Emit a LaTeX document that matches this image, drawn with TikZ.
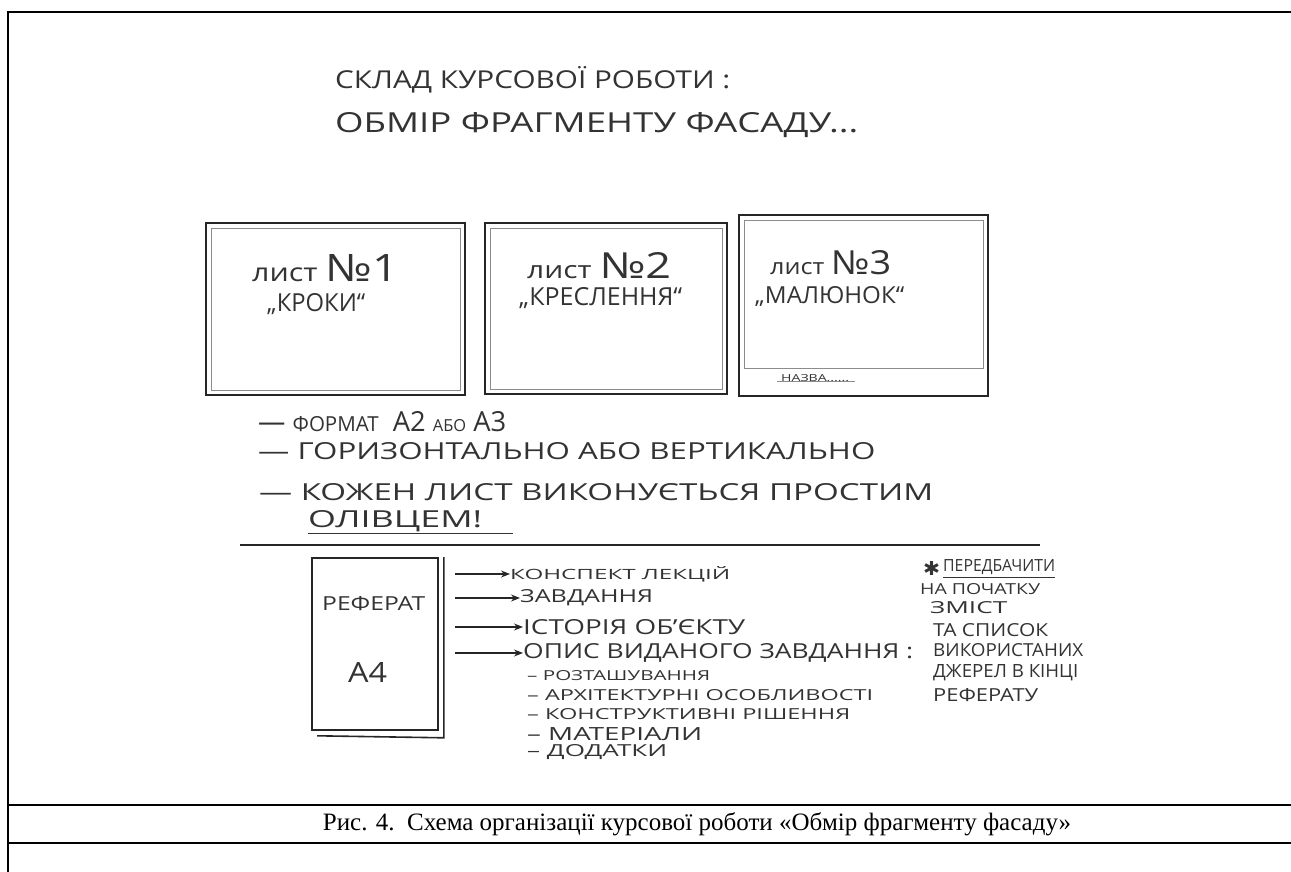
\documentclass[tikz,border=0pt]{standalone}
\usepackage{fontspec}
\setmainfont{Liberation Serif}
\newfontfamily\hand{Open Sans}
\newfontfamily\symb{DejaVu Sans}
\usetikzlibrary{positioning, arrows.meta}

\newcommand{\sized}[3]{\resizebox{#1pt}{#2pt}{#3}}

\begin{document}
\begin{tikzpicture}[x=1pt, y=-1pt,
	hand/.style={font=\hand, text=black!80, inner sep=0pt, anchor=west},
	sheet/.style={draw=black!85, line width=1.6pt, inner sep=0pt},
	inner/.style={draw=black!45, line width=0.6pt},
	pointer/.style={-{Stealth[length=9pt, width=7pt]}, line width=1.2pt, draw=black!85},
	rule/.style={line width=2pt}]
	\useasboundingbox (0,0) rectangle (1291,872);

	% table round the figure
	\draw[rule] (8,872) -- (8,12) -- (1295,12);
	\draw[rule] (8,805) -- (1295,805);
	\draw[rule] (8,843) -- (1295,843);
	\node[font=\fontsize{25}{29}\selectfont, inner sep=0pt] (caption) at (697,824) {Рис. 4.\ \ Схема організації курсової роботи «Обмір фрагменту фасаду»};

	% title
	\node[hand] (title1) at (335,80) {\sized{395}{22}{СКЛАД КУРСОВОЇ РОБОТИ :}};
	\node[hand] (title2) at (335,125) {\sized{523}{20}{ОБМІР ФРАГМЕНТУ ФАСАДУ...}};

	% three sheets
	\node[sheet, minimum width=259pt, minimum height=172pt] (sheet1) at (335.5,309) {};
	\node[sheet, minimum width=242pt, minimum height=171pt] (sheet2) at (606,308.5) {};
	\node[sheet, minimum width=249pt, minimum height=181pt] (sheet3) at (863.5,305.5) {};
	\draw[inner] ([shift={(6,6)}]sheet1.north west) rectangle ([shift={(-6,-6)}]sheet1.south east);
	\draw[inner] ([shift={(6,6)}]sheet2.north west) rectangle ([shift={(-6,-6)}]sheet2.south east);
	\draw[inner] ([shift={(6,6)}]sheet3.north west) rectangle ([shift={(-6,-29)}]sheet3.south east);

	\node[hand] (no1) at (252,268) {\sized{146}{27}{лист {\fontsize{15}{15}\selectfont №1}}};
	\node[hand] (name1) at (267,304) {\sized{98}{18}{„КРОКИ“}};
	\node[hand] (no2) at (527,266) {\sized{144}{26}{лист {\fontsize{15}{15}\selectfont №2}}};
	\node[hand] (name2) at (519,298) {\sized{163}{18}{„КРЕСЛЕННЯ“}};
	\node[hand] (no3) at (770,263) {\sized{121}{24}{лист {\fontsize{15}{15}\selectfont №3}}};
	\node[hand] (name3) at (755,297) {\sized{149}{17}{„МАЛЮНОК“}};
	\node[hand] (label3) at (781,378) {\sized{68}{7}{НАЗВА......}};
	\draw[inner] ([xshift=-4pt]label3.south west) -- ([xshift=6pt]label3.south east);

	% notes on the sheets
	\node[hand] (fmt) at (258,422) {\sized{248}{20}{— {\fontsize{7.5}{8}\selectfont ФОРМАТ}\ \ А2 {\fontsize{6}{7}\selectfont АБО} А3}};
	\node[hand] (orient) at (258,451) {\sized{617}{17}{— ГОРИЗОНТАЛЬНО АБО ВЕРТИКАЛЬНО}};
	\node[hand] (pencil) at (259,492) {\sized{674}{17}{— КОЖЕН ЛИСТ ВИКОНУЄТЬСЯ ПРОСТИМ}};
	\node[hand] (pencil2) at (308,521) {\sized{174}{17}{ОЛІВЦЕМ!}};
	\draw[line width=0.8pt, black!80] (pencil2.south west) ++(0,2) -- ++(205,0);

	\draw[line width=1.6pt, black!85] (240,545) -- (1040,545);

	% essay
	\node[sheet, minimum width=126pt, minimum height=172pt] (ref) at (375,644) {};
	\draw[sheet] ([xshift=5pt]ref.north east) -- ([shift={(5,7)}]ref.south east) -- ([shift={(6,5)}]ref.south west);
	\node[hand] (reftxt) at (322,604) {\sized{103}{14}{РЕФЕРАТ}};
	\node[hand] (a4) at (348,672) {\sized{39}{20}{А4}};

	\coordinate (tail) at (455,0);
	\node[hand] (item1) at (510,574) {\sized{220}{13}{КОНСПЕКТ ЛЕКЦІЙ}};
	\node[hand] (item2) at (520,598) {\sized{133}{13}{ЗАВДАННЯ}};
	\node[hand] (item3) at (523,627) {\sized{222}{15}{ІСТОРІЯ ОБ’ЄКТУ}};
	\node[hand] (item4) at (523,653) {\sized{390}{15}{ОПИС ВИДАНОГО ЗАВДАННЯ :}};
	\foreach \n in {1,...,4}
		\draw[pointer] (tail |- item\n.west) -- (item\n.west);

	\node[hand] (sub1) at (527,676) {\sized{183}{10}{– РОЗТАШУВАННЯ}};
	\node[hand] (sub2) at (527,695) {\sized{346}{11}{– АРХІТЕКТУРНІ ОСОБЛИВОСТІ}};
	\node[hand] (sub3) at (527,714) {\sized{323}{11}{– КОНСТРУКТИВНІ РІШЕННЯ}};
	\node[hand] (sub4) at (527,734) {\sized{175}{13}{– МАТЕРІАЛИ}};
	\node[hand] (sub5) at (527,752) {\sized{140}{12}{– ДОДАТКИ}};

	% note on the right
	\node[hand] (star) at (923,568) {\sized{17}{14}{\symb ✱}};
	\node[hand] (note1) at (943,567) {\sized{112}{12}{ПЕРЕДБАЧИТИ}};
	\draw[line width=0.8pt, black!80] (note1.south west) ++(0,3) -- ++(112,0);
	\node[hand] (note2) at (920,589) {\sized{120}{11}{НА ПОЧАТКУ}};
	\node[hand] (note3) at (930,608) {\sized{77}{12}{ЗМІСТ}};
	\node[hand] (note4) at (933,630) {\sized{115}{13}{ТА СПИСОК}};
	\node[hand] (note5) at (933,650) {\sized{150}{13}{ВИКОРИСТАНИХ}};
	\node[hand] (note6) at (933,673) {\sized{145}{13}{ДЖЕРЕЛ В КІНЦІ}};
	\node[hand] (note7) at (933,695) {\sized{105}{13}{РЕФЕРАТУ}};
\end{tikzpicture}
\end{document}
